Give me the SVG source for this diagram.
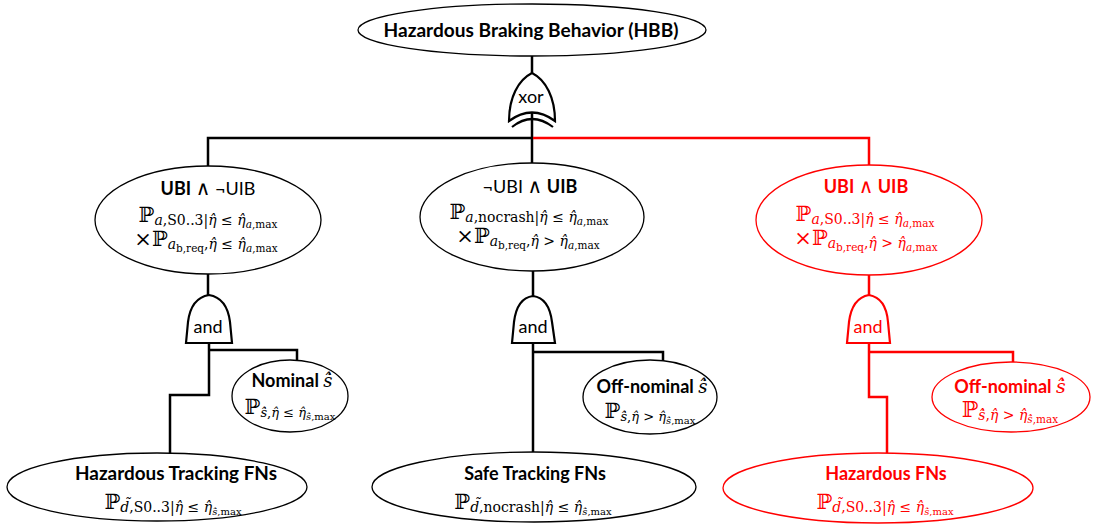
<svg xmlns="http://www.w3.org/2000/svg" width="1094" height="526" viewBox="0 0 1094 526">
<style>
.el{fill:#fff;stroke:#000;stroke-width:1.3}
.elr{fill:#fff;stroke:#f00;stroke-width:1.3}
.cn{fill:none;stroke:#000;stroke-width:2.5}
.cnr{fill:none;stroke:#f00;stroke-width:2.5}
.g{fill:#fff;stroke:#000;stroke-width:2.2}
.gr{fill:#fff;stroke:#f00;stroke-width:2.2}
.t{font-family:Lato,"Liberation Sans","DejaVu Sans",sans-serif;font-size:18px;text-anchor:middle;fill:#000}
.b{font-weight:bold}
.w{font-family:"DejaVu Sans",sans-serif;font-weight:normal;font-size:20px}
.m{font-family:"DejaVu Serif",serif;text-anchor:middle;fill:#000}
.i{font-style:italic}
.red{fill:#f00}
</style>
<rect width="1094" height="526" fill="#fff"/>
<g id="connectors">
<path class="cn" d="M532,56 V74"/>
<path class="cn" d="M532,113 V138 H208 V166"/>
<path class="cn" d="M532,138 V163"/>
<path class="cnr" d="M533,138 H869 V165"/>
<path class="cn" d="M208,274 V297"/>
<path class="cn" d="M209,343 V395 H170 V453"/>
<path class="cn" d="M209,350 H297 V362"/>
<path class="cn" d="M533,271 V297"/>
<path class="cn" d="M533,343 V452"/>
<path class="cn" d="M533,352 H663 V361"/>
<path class="cnr" d="M869,275 V295"/>
<path class="cnr" d="M869,343 V397 H887 V453"/>
<path class="cnr" d="M869,352 H1013 V362"/>
</g>
<g id="hbb">
<ellipse class="el" cx="532" cy="30" rx="174" ry="26"/>
<text class="t b" x="531" y="37" font-size="19" textLength="295" lengthAdjust="spacingAndGlyphs">Hazardous Braking Behavior (HBB)</text>
</g>
<g id="xor">
<path class="g" d="M509,121 C509,98 518,80 532,73 C546,80 555,98 555,121 Q532,104 509,121 Z"/>
<path fill="none" stroke="#000" stroke-width="2.2" d="M512,127 Q532,111 553,127"/>
<text class="t" x="531" y="103" font-size="18">xor</text>
</g>
<g id="ubi-not-uib">
<ellipse class="el" cx="208" cy="220" rx="113" ry="54"/>
<text class="t" x="208" y="195"><tspan class="b">UBI</tspan> <tspan class="w">∧</tspan> ¬UIB</text>
<text class="m" x="208" y="222"><tspan font-size="21">ℙ</tspan><tspan font-size="14" dy="3"><tspan class="i">a</tspan>,S0..3|<tspan class="i">η̂</tspan> ≤ <tspan class="i">η̂</tspan></tspan><tspan font-size="10.5" dy="3"><tspan class="i">a</tspan>,max</tspan></text>
<text class="m" x="206" y="246"><tspan font-size="21">×ℙ</tspan><tspan font-size="14" dy="3" class="i">a</tspan><tspan font-size="10.5" dy="3">b,req</tspan><tspan font-size="14" dy="-3">,<tspan class="i">η̂</tspan> ≤ <tspan class="i">η̂</tspan></tspan><tspan font-size="10.5" dy="3"><tspan class="i">a</tspan>,max</tspan></text>
</g>
<g id="not-ubi-uib">
<ellipse class="el" cx="532" cy="217" rx="112" ry="54"/>
<text class="t" x="530" y="193">¬UBI <tspan class="w">∧</tspan> <tspan class="b">UIB</tspan></text>
<text class="m" x="529" y="219"><tspan font-size="21">ℙ</tspan><tspan font-size="14" dy="3"><tspan class="i">a</tspan>,nocrash|<tspan class="i">η̂</tspan> ≤ <tspan class="i">η̂</tspan></tspan><tspan font-size="10.5" dy="3"><tspan class="i">a</tspan>,max</tspan></text>
<text class="m" x="528" y="243"><tspan font-size="21">×ℙ</tspan><tspan font-size="14" dy="3" class="i">a</tspan><tspan font-size="10.5" dy="3">b,req</tspan><tspan font-size="14" dy="-3">,<tspan class="i">η̂</tspan> &gt; <tspan class="i">η̂</tspan></tspan><tspan font-size="10.5" dy="3"><tspan class="i">a</tspan>,max</tspan></text>
</g>
<g id="ubi-uib">
<ellipse class="elr" cx="869" cy="220" rx="113" ry="55"/>
<text class="t b red" x="866" y="193">UBI <tspan class="w">∧</tspan> UIB</text>
<text class="m red" x="865" y="221"><tspan font-size="21">ℙ</tspan><tspan font-size="14" dy="3"><tspan class="i">a</tspan>,S0..3|<tspan class="i">η̂</tspan> ≤ <tspan class="i">η̂</tspan></tspan><tspan font-size="10.5" dy="3"><tspan class="i">a</tspan>,max</tspan></text>
<text class="m red" x="866" y="245"><tspan font-size="21">×ℙ</tspan><tspan font-size="14" dy="3" class="i">a</tspan><tspan font-size="10.5" dy="3">b,req</tspan><tspan font-size="14" dy="-3">,<tspan class="i">η̂</tspan> &gt; <tspan class="i">η̂</tspan></tspan><tspan font-size="10.5" dy="3"><tspan class="i">a</tspan>,max</tspan></text>
</g>
<g id="and-left">
<path class="g" d="M186,343 L188,322 Q191,298 209,295 Q227,298 230,322 L232,343 Z"/>
<text class="t" x="208" y="333" font-size="18">and</text>
</g>
<g id="and-mid">
<path class="g" d="M512,343 L514,322 Q517,298 533,296 Q549,298 552,322 L555,343 Z"/>
<text class="t" x="533" y="333" font-size="18">and</text>
</g>
<g id="and-right">
<path class="gr" d="M847,343 L849,322 Q852,298 869,295 Q886,298 888,322 L890,343 Z"/>
<text class="t red" x="868" y="333" font-size="18">and</text>
</g>
<g id="nominal">
<ellipse class="el" cx="290" cy="396" rx="58" ry="36"/>
<text class="t" x="292" y="387"><tspan class="b">Nominal </tspan><tspan class="m i" font-size="18">ṡ̂</tspan></text>
<text class="m" x="290" y="414"><tspan font-size="21">ℙ</tspan><tspan font-size="13" dy="3"><tspan class="i">ṡ̂</tspan>,<tspan class="i">η̂</tspan> ≤ <tspan class="i">η̂</tspan></tspan><tspan font-size="10" dy="3"><tspan class="i">ṡ̂</tspan>,max</tspan></text>
</g>
<g id="offnominal-mid">
<ellipse class="el" cx="650" cy="397" rx="67" ry="37"/>
<text class="t" x="652" y="393"><tspan class="b">Off-nominal </tspan><tspan class="m i" font-size="18">ṡ̂</tspan></text>
<text class="m" x="650" y="418"><tspan font-size="21">ℙ</tspan><tspan font-size="13" dy="3"><tspan class="i">ṡ̂</tspan>,<tspan class="i">η̂</tspan> &gt; <tspan class="i">η̂</tspan></tspan><tspan font-size="10" dy="3"><tspan class="i">ṡ̂</tspan>,max</tspan></text>
</g>
<g id="offnominal-right">
<ellipse class="elr" cx="1011" cy="397" rx="79" ry="35"/>
<text class="t red" x="1010" y="393" font-size="19"><tspan class="b">Off-nominal </tspan><tspan class="m i red" font-size="19">ṡ̂</tspan></text>
<text class="m red" x="1010" y="417"><tspan font-size="22">ℙ</tspan><tspan font-size="14" dy="3"><tspan class="i">ṡ̂</tspan>,<tspan class="i">η̂</tspan> &gt; <tspan class="i">η̂</tspan></tspan><tspan font-size="10.5" dy="3"><tspan class="i">ṡ̂</tspan>,max</tspan></text>
</g>
<g id="hazardous-tracking">
<ellipse class="el" cx="157" cy="487" rx="150" ry="34"/>
<text class="t b" x="176" y="480" font-size="19" textLength="202" lengthAdjust="spacingAndGlyphs">Hazardous Tracking FNs</text>
<text class="m" x="173" y="509"><tspan font-size="21">ℙ</tspan><tspan font-size="14" dy="3"><tspan class="i">d̃</tspan>,S0..3|<tspan class="i">η̂</tspan> ≤ <tspan class="i">η̂</tspan></tspan><tspan font-size="10" dy="3"><tspan class="i">ṡ̂</tspan>,max</tspan></text>
</g>
<g id="safe-tracking">
<ellipse class="el" cx="534" cy="487" rx="162" ry="35"/>
<text class="t b" x="535" y="480" font-size="19">Safe Tracking FNs</text>
<text class="m" x="533" y="509"><tspan font-size="21">ℙ</tspan><tspan font-size="14" dy="3"><tspan class="i">d̃</tspan>,nocrash|<tspan class="i">η̂</tspan> ≤ <tspan class="i">η̂</tspan></tspan><tspan font-size="10" dy="3"><tspan class="i">ṡ̂</tspan>,max</tspan></text>
</g>
<g id="hazardous-fns">
<ellipse class="elr" cx="878" cy="488" rx="155" ry="35"/>
<text class="t b red" x="886" y="480" font-size="19">Hazardous FNs</text>
<text class="m red" x="885" y="509"><tspan font-size="21">ℙ</tspan><tspan font-size="14" dy="3"><tspan class="i">d̃</tspan>,S0..3|<tspan class="i">η̂</tspan> ≤ <tspan class="i">η̂</tspan></tspan><tspan font-size="10" dy="3"><tspan class="i">ṡ̂</tspan>,max</tspan></text>
</g>
</svg>
